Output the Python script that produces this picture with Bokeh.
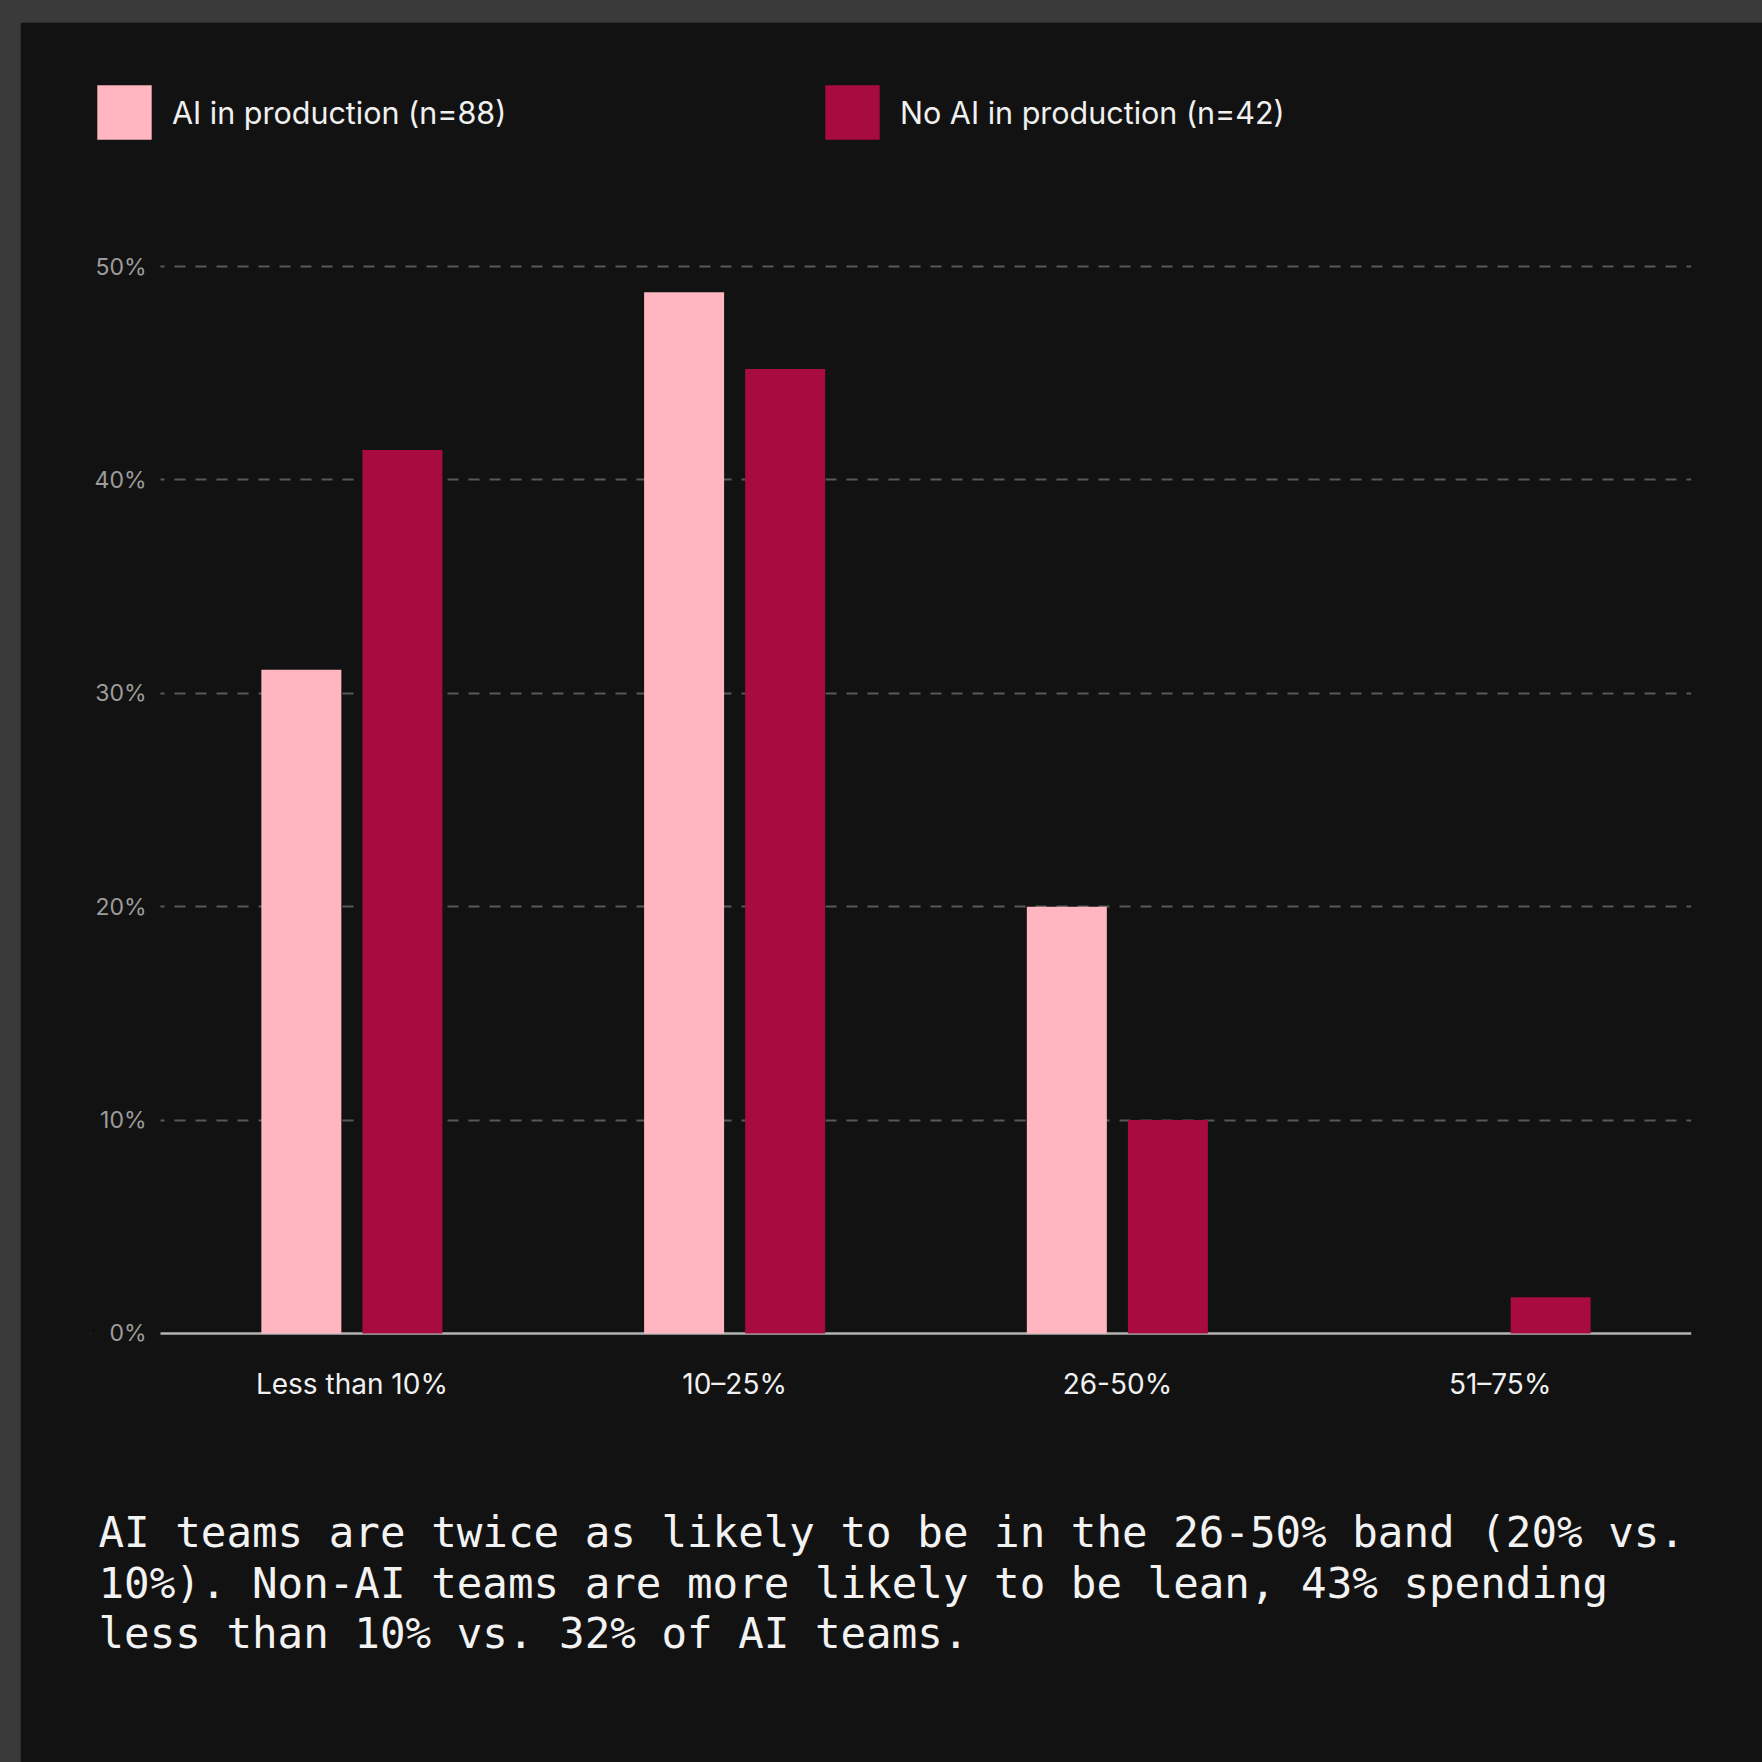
from bokeh.plotting import figure
from bokeh.models import (ColumnDataSource, Range1d, FixedTicker, Legend, LegendItem,
                          Title, Span, BoxAnnotation, LinearAxis, PrintfTickFormatter)
from bokeh.transform import dodge
from bokeh.layouts import column
from bokeh.embed import file_html
from bokeh.resources import INLINE

# ---- data ----
categories = ["Less than 10%", "10\u201325%", "26-50%", "51\u201375%"]
ai_share = [31.1, 48.8, 20.0, 0.0]
no_ai_share = [41.4, 45.2, 10.0, 1.7]
y_ticks = [0, 10, 20, 30, 40, 50]
series_labels = ["AI in production (n=88)", "No AI in production (n=42)"]
caption = ("AI teams are twice as likely to be in the 26-50% band (20% vs.\n"
           "10%). Non-AI teams are more likely to be lean, 43% spending\n"
           "less than 10% vs. 32% of AI teams.")

BG = "#121212"
PINK = "#FFB6C1"
CRIMSON = "#A80B40"
SANS = "Inter"
BAR_W = 0.209
OFF = 0.132

cat_pos = list(range(len(categories)))
src = ColumnDataSource(dict(pos=cat_pos, ai=ai_share, noai=no_ai_share))

# categories sit at 0..n-1; the extra room on the left holds the y labels and legend
x_lo = -0.5 - 70 / 382.75
x_hi = len(categories) - 0.5

p = figure(width=1742, height=1740, output_backend="svg", toolbar_location=None,
           x_range=Range1d(x_lo, x_hi), y_range=Range1d(-0.8, 60.5),
           y_axis_location=None,
           min_border_left=70, min_border_right=71, min_border_top=20, min_border_bottom=412,
           border_fill_color=BG, background_fill_color=BG,
           outline_line_color=BG, outline_line_width=3)

r1 = p.vbar(x=dodge("pos", -OFF), top="ai", width=BAR_W, source=src,
            fill_color=PINK, line_color=None)
r2 = p.vbar(x=dodge("pos", OFF), top="noai", width=BAR_W, source=src,
            fill_color=CRIMSON, line_color=None)

# grid + baseline
p.xgrid.grid_line_color = None
p.ygrid.ticker = FixedTicker(ticks=y_ticks[1:])
p.ygrid.grid_line_color = "#585858"
p.ygrid.grid_line_width = 2
p.ygrid.grid_line_dash = "11 10"
p.add_layout(Span(location=y_ticks[0], dimension="width", line_color="#b4b4b4",
                  line_width=2.5, level="underlay"))
# keep grid/baseline out of the label gutter
p.add_layout(BoxAnnotation(left=x_lo - 1, right=-0.5, fill_color=BG, fill_alpha=1,
                           line_color=None, level="underlay"))

# y axis pinned at the left edge of the category bands
yax = LinearAxis(fixed_location=-0.5, ticker=FixedTicker(ticks=y_ticks),
                 formatter=PrintfTickFormatter(format="%d%%"),
                 axis_line_color=None, major_tick_line_color=None,
                 minor_tick_line_color=None, major_tick_out=0, major_tick_in=0,
                 major_label_standoff=14, major_label_text_font=SANS,
                 major_label_text_font_size="23px", major_label_text_color="#9c9c9c")
p.add_layout(yax, "left")

# x axis with category names
p.xaxis.ticker = FixedTicker(ticks=cat_pos)
p.xaxis.major_label_overrides = {i: c for i, c in zip(cat_pos, categories)}
p.xaxis.axis_line_color = None
p.xaxis.major_tick_line_color = None
p.xaxis.minor_tick_line_color = None
p.xaxis.major_tick_out = 0
p.xaxis.major_tick_in = 0
p.xaxis.major_label_standoff = 16
p.xaxis.major_label_text_font = SANS
p.xaxis.major_label_text_font_size = "28px"
p.xaxis.major_label_text_color = "#f0f0f0"

# legends
for rend, lab, loc in [(r1, series_labels[0], (0, 1204)), (r2, series_labels[1], (728, 1204))]:
    lg = Legend(items=[LegendItem(label=lab, renderers=[rend])], location=loc,
                orientation="horizontal", glyph_width=68, glyph_height=68,
                label_standoff=14, padding=0, margin=0, border_line_color=None,
                background_fill_alpha=0, label_text_font=SANS,
                label_text_font_size="30.5px", label_text_color="#f0f0f0")
    p.add_layout(lg)

# caption below the axis
p.add_layout(Title(text=caption, align="left", offset=8, standoff=206,
                   text_font="DejaVu Sans Mono", text_font_size="42.5px",
                   text_font_style="normal", text_color="#f2f2f2",
                   text_line_height=1.035), "below")

layout = column(p, styles={"padding-left": "20px", "padding-top": "22px",
                           "background-color": "#3a3a3a"})

open("out.html", "w").write(file_html(layout, INLINE))
